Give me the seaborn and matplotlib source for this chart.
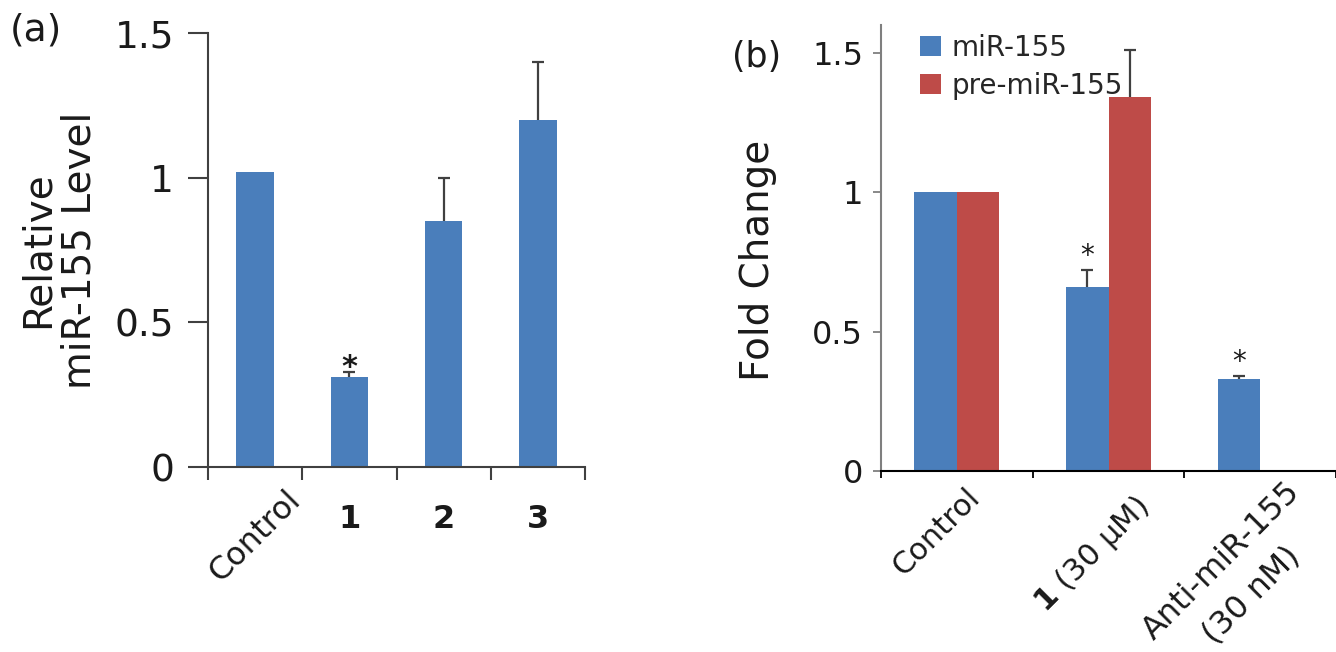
import numpy as np
import pandas as pd
import matplotlib.pyplot as plt
import seaborn as sns
from matplotlib.transforms import ScaledTranslation

# DADOS - painel (a)
grupos_a = ['Control', '1', '2', '3']
valores_a = [1.02, 0.31, 0.85, 1.20]
erros_a = [0.0, 0.02, 0.15, 0.20]
signif_a = [False, True, False, False]

# DADOS - painel (b)
grupos_b = ['Control', '1 (30 µM)', 'Anti-miR-155 (30 nM)']
rotulos_b = ['Control', r'$\mathbf{1}$ (30 µM)', 'Anti-miR-155']
rotulo_b_linha2 = '(30 nM)'
series_b = ['miR-155', 'pre-miR-155']
mir155 = [1.0, 0.66, 0.33]
mir155_erro = [0.0, 0.06, 0.01]
mir155_signif = [False, True, True]
pre_mir155 = [1.0, 1.34, np.nan]
pre_mir155_erro = [0.0, 0.17, np.nan]
pre_mir155_signif = [False, False, False]

yticks = [0, 0.5, 1, 1.5]
ytick_rotulos = ['0', '0.5', '1', '1.5']

AZUL = '#4a7ebb'
VERMELHO = '#be4b48'
CINZA = '#404040'

sns.set_style('ticks')
plt.rcParams['font.family'] = ['DejaVu Sans']

fig = plt.figure(figsize=(13.36, 6.52), dpi=100)
ax1 = fig.add_axes([208 / 1336, 1 - 467 / 652, 377 / 1336, 434 / 652])
ax2 = fig.add_axes([881 / 1336, 1 - 471 / 652, 455 / 1336, 446 / 652])


def barra_erro(ax, cx, topo, erro):
    # barra de erro só para cima, sem o traço de baixo
    _, caps, _ = ax.errorbar(cx, topo, yerr=[[0], [erro]], fmt='none', ecolor=CINZA,
                             elinewidth=1.6, capsize=4.5, capthick=1.6)
    for cap in caps:
        if np.isclose(cap.get_ydata()[0], topo):
            cap.set_visible(False)


# PAINEL (a)
sns.barplot(x=grupos_a, y=valores_a, color=AZUL, saturation=1, width=0.4,
            errorbar=None, linewidth=0, ax=ax1)
for barra, erro, sig in zip(ax1.patches, erros_a, signif_a):
    cx = barra.get_x() + barra.get_width() / 2
    topo = barra.get_height()
    if erro > 0:
        barra_erro(ax1, cx, topo, erro)
    if sig:
        ax1.annotate('*', (cx, topo + erro), xytext=(0, 3), textcoords='offset points',
                     ha='center', va='center', fontsize=22, fontweight='bold', color='#1a1a1a')

ax1.set_xlim(-0.5, 3.5)
ax1.set_ylim(0, 1.5)
ax1.set_yticks(yticks)
ax1.set_yticklabels(ytick_rotulos)
ax1.set_xticks(range(len(grupos_a)))
ax1.set_xticks(np.arange(-0.5, len(grupos_a), 1), minor=True)
ax1.tick_params(axis='y', length=14.4, width=1.5, color=CINZA, pad=10, labelsize=27,
                labelcolor='#1a1a1a')
ax1.tick_params(axis='x', which='major', length=0, pad=26.5, labelsize=23, labelcolor='#1a1a1a')
ax1.tick_params(axis='x', which='minor', length=9.4, width=1.5, color=CINZA, direction='out')
ax1.set_xticklabels(grupos_a, fontweight='bold')
rot_control = ax1.get_xticklabels()[0]
rot_control.set(fontweight='normal', rotation=45, ha='right', va='top',
                rotation_mode='anchor', fontsize=23)
rot_control.set_transform(rot_control.get_transform() + ScaledTranslation(0.30, 0.19, fig.dpi_scale_trans))
ax1.set_xlabel('')
ax1.set_ylabel('Relative\nmiR-155 Level', fontsize=28, linespacing=1.15, color='#1a1a1a')
ax1.yaxis.set_label_coords(-0.29, 0.5)
sns.despine(ax=ax1)
for lado in ['left', 'bottom']:
    ax1.spines[lado].set_color(CINZA)
    ax1.spines[lado].set_linewidth(1.5)

# PAINEL (b)
dados_b = pd.DataFrame({
    'grupo': grupos_b * 2,
    'serie': [series_b[0]] * 3 + [series_b[1]] * 3,
    'valor': mir155 + pre_mir155,
    'erro': mir155_erro + pre_mir155_erro,
    'sig': mir155_signif + pre_mir155_signif,
}).dropna()

sns.barplot(data=dados_b, x='grupo', y='valor', hue='serie', order=grupos_b, hue_order=series_b,
            palette=[AZUL, VERMELHO], saturation=1, width=0.56, errorbar=None, linewidth=0, ax=ax2)

for cont, serie in zip(ax2.containers, series_b):
    sub = dados_b[dados_b['serie'] == serie].set_index('grupo')
    for barra in cont:
        cx = barra.get_x() + barra.get_width() / 2
        grupo = grupos_b[int(round(cx))]
        topo = barra.get_height()
        erro = sub.loc[grupo, 'erro']
        if erro > 0:
            barra_erro(ax2, cx, topo, erro)
        if sub.loc[grupo, 'sig']:
            ax2.annotate('*', (cx, topo + erro), xytext=(0, 10), textcoords='offset points',
                         ha='center', va='center', fontsize=20, color='#1a1a1a')

ax2.set_xlim(-0.5, 2.18)
ax2.set_ylim(0, 1.6)
ax2.set_yticks(yticks)
ax2.set_yticklabels(ytick_rotulos)
ax2.set_xticks(range(len(grupos_b)))
ax2.set_xticks(np.arange(-0.5, len(grupos_b), 1), minor=True)
ax2.tick_params(axis='y', length=5.8, width=1.3, color='#7f7f7f', pad=7, labelsize=23,
                labelcolor='#1a1a1a')
ax2.tick_params(axis='x', which='major', length=0, pad=10, labelsize=22, labelcolor='#1a1a1a')
ax2.tick_params(axis='x', which='minor', length=5, width=1.3, color='black', direction='out')
ax2.set_xticklabels(rotulos_b, rotation=45, ha='right', va='top', rotation_mode='anchor')
deslocamentos = [(0.08, 0.02), (0.24, -0.06), (0.24, 0.09)]
for rot, (dx, dy) in zip(ax2.get_xticklabels(), deslocamentos):
    rot.set_transform(rot.get_transform() + ScaledTranslation(dx, dy, fig.dpi_scale_trans))
ax2.get_xticklabels()[2].set_fontsize(23)
# segunda linha do rótulo Anti-miR-155
ax2.annotate(rotulo_b_linha2, xy=(2, 0), xycoords=('data', 'axes fraction'),
             xytext=(17, -50), textcoords='offset points', rotation=45, ha='right', va='top',
             rotation_mode='anchor', fontsize=23, color='#1a1a1a', annotation_clip=False)
ax2.set_xlabel('')
ax2.set_ylabel('Fold Change', fontsize=28, color='#1a1a1a')
ax2.yaxis.set_label_coords(-0.229, 0.473)
sns.despine(ax=ax2)
ax2.spines['left'].set_color('#7f7f7f')
ax2.spines['left'].set_linewidth(1.5)
ax2.spines['bottom'].set_color('black')
ax2.spines['bottom'].set_linewidth(1.5)

sns.move_legend(ax2, 'upper left', bbox_to_anchor=(920 / 1336, 1 - 34 / 652),
                bbox_transform=fig.transFigure, title=None, frameon=False, fontsize=20,
                handlelength=0.75, handleheight=0.75, handletextpad=0.4, labelspacing=0.35,
                borderpad=0, borderaxespad=0)

fig.text(10 / 1336, 1 - 13 / 652, '(a)', va='top', ha='left', fontsize=27, color='#1a1a1a')
fig.text(732 / 1336, 1 - 40 / 652, '(b)', va='top', ha='left', fontsize=25, color='#1a1a1a')

plt.savefig('out.png', dpi=100)
